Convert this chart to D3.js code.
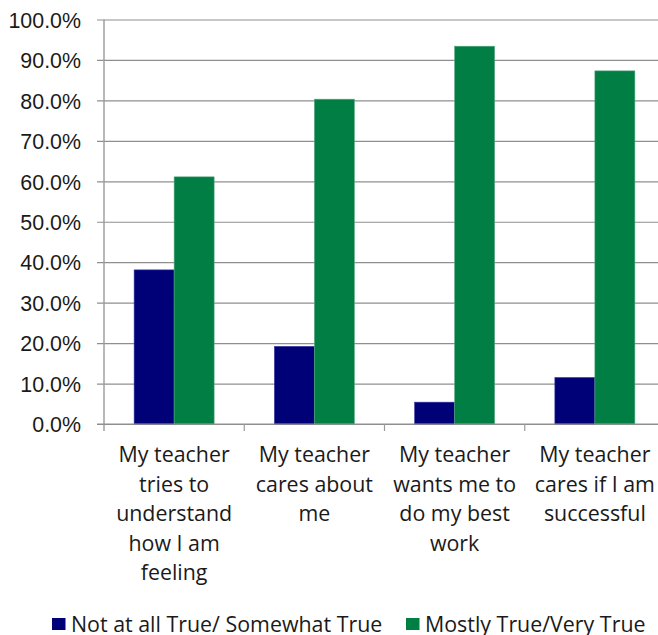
<!DOCTYPE html>
<html>
<head>
<meta charset="utf-8">
<script src="https://cdn.jsdelivr.net/npm/d3@7"></script>
<style>
  html, body { margin: 0; padding: 0; background: #fff; }
  svg { display: block; font-family: "Open Sans", "Noto Sans", sans-serif; }
</style>
</head>
<body>
<svg id="chart" width="658" height="635"></svg>
<script>
// Survey statements (x categories), one label line per array entry
const categories = [
  ["My teacher", "tries to", "understand", "how I am", "feeling"],
  ["My teacher", "cares about", "me"],
  ["My teacher", "wants me to", "do my best", "work"],
  ["My teacher", "cares if I am", "successful"]
];
const seriesNames = ["Not at all True/ Somewhat True", "Mostly True/Very True"];
const notTrue = [38.1, 19.2, 5.4, 11.5];
const mostlyTrue = [61.1, 80.3, 93.4, 87.3];
const yTicks = [0, 10, 20, 30, 40, 50, 60, 70, 80, 90, 100];
const colors = ["#000077", "#007E44"];
const edgeColors = ["#3a3aa0", "#5aa882"];

const FONT = "21.4px";
const svg = d3.select("#chart");
const margin = { left: 104, right: -7, top: 19.5, bottom: 211 };
const W = 658, H = 635;
const plotW = W - margin.left - margin.right;
const plotH = H - margin.top - margin.bottom;

const g = svg.append("g").attr("transform", `translate(${margin.left},${margin.top})`);

const x = d3.scaleBand().domain(d3.range(categories.length)).range([0, plotW]).paddingInner(0).paddingOuter(0);
const xs = d3.scaleBand().domain([0, 1]).range([0, x.bandwidth()]).paddingInner(0).paddingOuter(0.753);
const y = d3.scaleLinear().domain([0, 100]).range([plotH, 0]);

// horizontal gridlines with tick labels
const yAxis = d3.axisLeft(y).tickValues(yTicks).tickSize(-plotW).tickFormat(d => d.toFixed(1) + "%").tickPadding(23);
const yg = g.append("g").call(yAxis);
yg.select(".domain").remove();
yg.selectAll(".tick line").attr("stroke", "#8f8f8f").attr("stroke-width", 1.2).attr("x1", -7);
yg.selectAll(".tick text").attr("fill", "#1a1a1a").style("font-size", FONT).attr("dy", "0.36em");

// bars
const data = categories.map((c, i) => [notTrue[i], mostlyTrue[i]]);
const groups = g.append("g").selectAll("g").data(data).join("g")
  .attr("transform", (d, i) => `translate(${x(i)},0)`);
groups.selectAll("rect").data(d => d.map((v, s) => ({ v, s }))).join("rect")
  .attr("x", d => xs(d.s))
  .attr("width", xs.bandwidth())
  .attr("y", d => y(d.v))
  .attr("height", d => plotH - y(d.v))
  .attr("fill", d => colors[d.s])
  .attr("stroke", d => edgeColors[d.s])
  .attr("stroke-width", 0.6);

// value axis line
g.append("line").attr("x1", 0).attr("x2", 0).attr("y1", 0).attr("y2", plotH + 7)
  .attr("stroke", "#9a9a9a").attr("stroke-width", 1.4);

// category axis with boundary ticks
g.append("line").attr("x1", -7).attr("x2", plotW).attr("y1", plotH).attr("y2", plotH)
  .attr("stroke", "#8f8f8f").attr("stroke-width", 1.2);
g.selectAll(".cat-tick").data(d3.range(1, categories.length + 1)).join("line")
  .attr("class", "cat-tick")
  .attr("x1", i => x.step() * i).attr("x2", i => x.step() * i)
  .attr("y1", plotH).attr("y2", plotH + 7)
  .attr("stroke", "#9a9a9a").attr("stroke-width", 1.2);

// category labels, centred under each group
const labels = g.append("g").selectAll("text").data(categories).join("text")
  .attr("x", (d, i) => x(i) + x.bandwidth() / 2)
  .attr("y", plotH + 38)
  .attr("text-anchor", "middle")
  .attr("fill", "#1a1a1a")
  .style("font-size", FONT);
labels.selectAll("tspan").data(d => d).join("tspan")
  .attr("x", function () { return d3.select(this.parentNode).attr("x"); })
  .attr("dy", (d, i) => i === 0 ? 0 : 29.6)
  .text(d => d);

// legend
const legend = svg.append("g").attr("transform", "translate(0,624)");
const legendX = [52, 406];
seriesNames.forEach((name, s) => {
  legend.append("rect").attr("x", legendX[s]).attr("y", -6).attr("width", 13.5).attr("height", 12)
    .attr("fill", colors[s]);
  legend.append("text").attr("x", legendX[s] + 19).attr("y", 0).attr("dy", "0.36em")
    .attr("fill", "#1a1a1a").style("font-size", FONT)
    .text(name);
});
</script>
</body>
</html>
